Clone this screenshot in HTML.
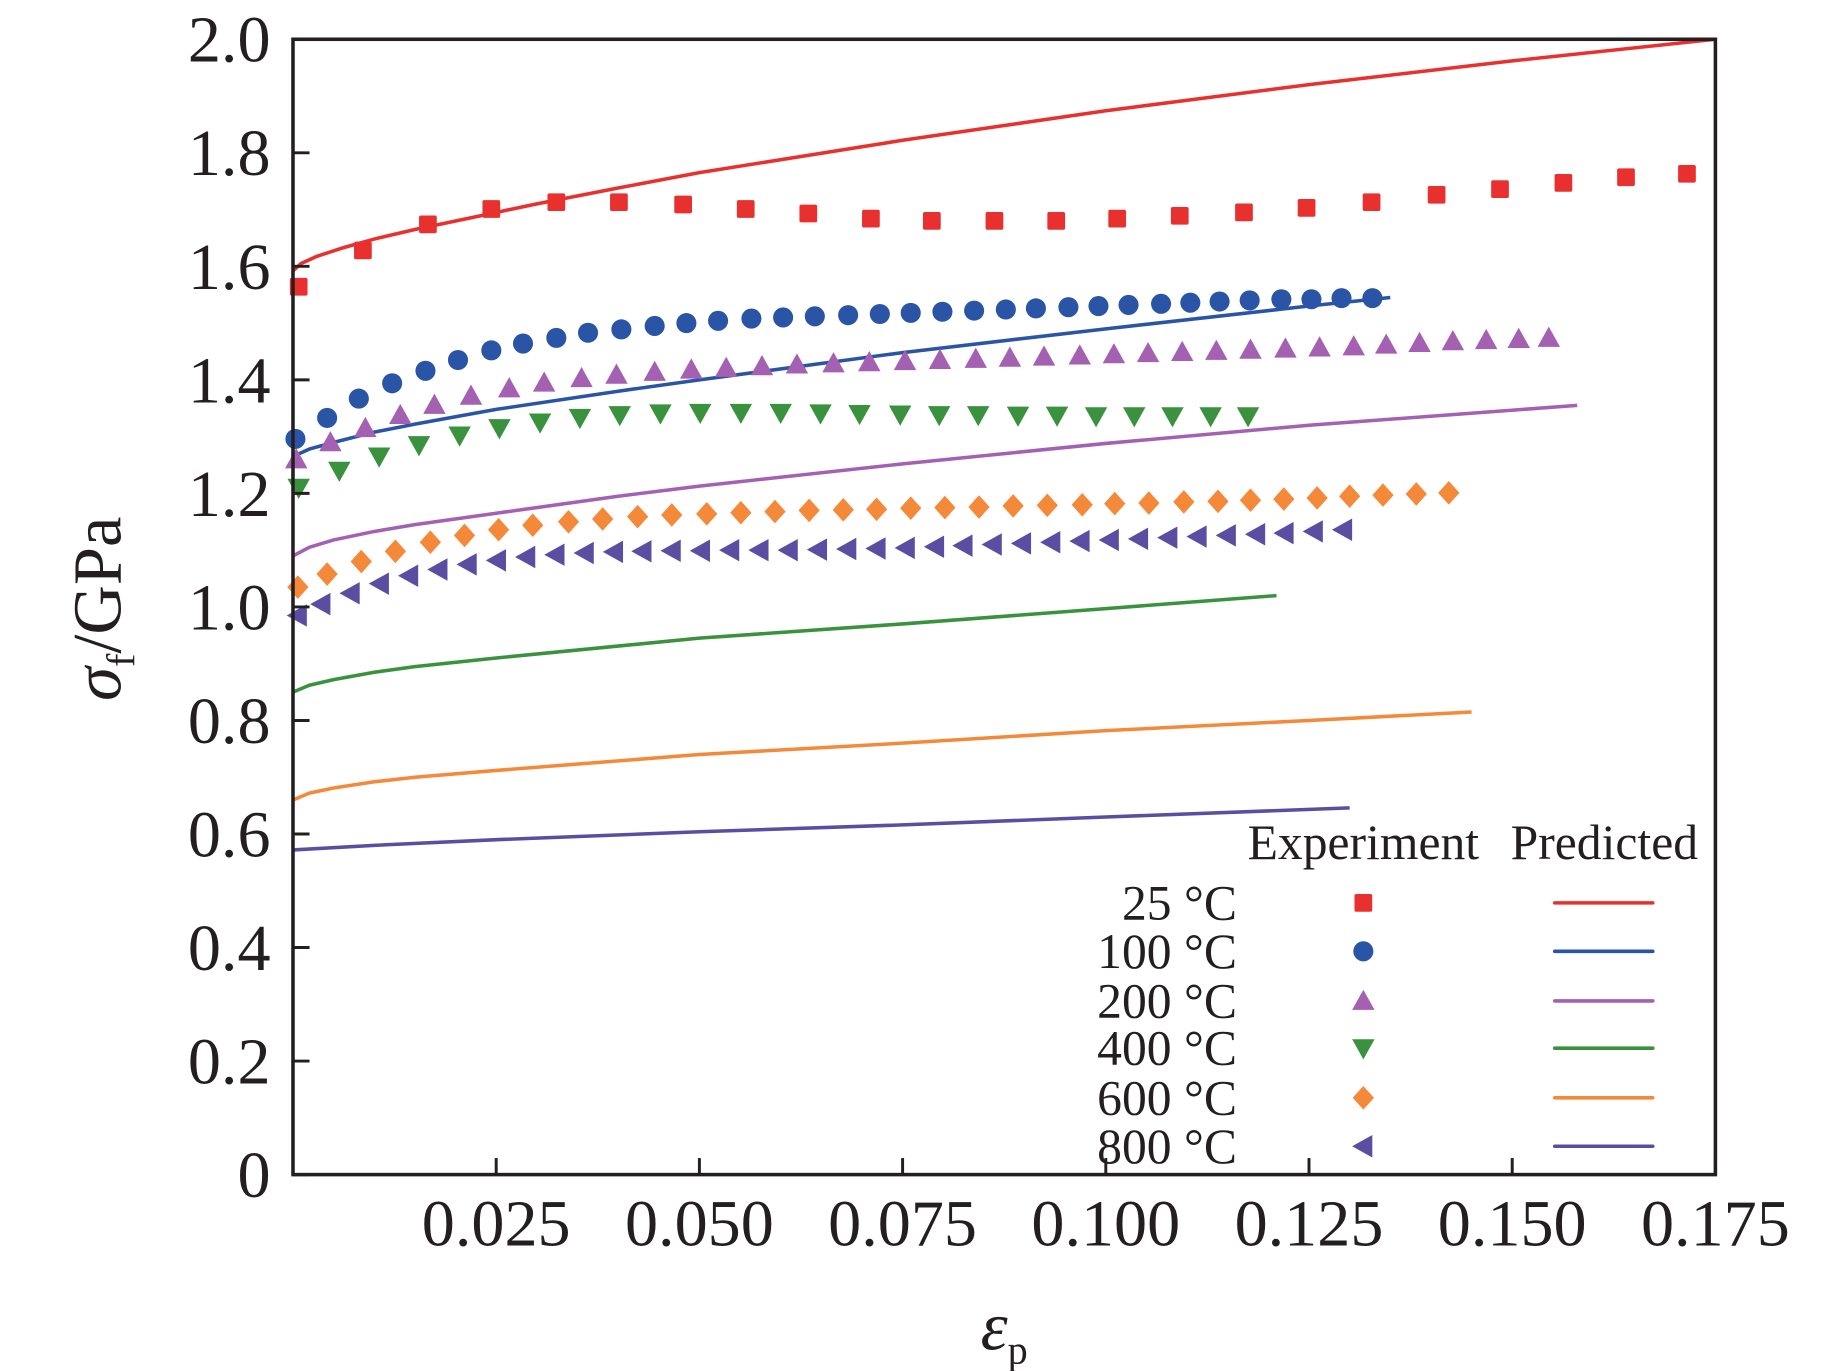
<!DOCTYPE html>
<html><head><meta charset="utf-8"><style>html,body{margin:0;padding:0;background:#fff}svg{display:block}</style></head>
<body>
<svg id="chart" width="1843" height="1371" viewBox="0 0 1560 1160" xmlns="http://www.w3.org/2000/svg" font-family="'Liberation Serif', serif" fill="#231f20"></svg>
<script>
const xTicks = [0.025, 0.05, 0.075, 0.1, 0.125, 0.15, 0.175];
const xTickLabels = ["0.025","0.050","0.075","0.100","0.125","0.150","0.175"];
const yTicks = [0,0.2,0.4,0.6,0.8,1.0,1.2,1.4,1.6,1.8,2.0];
const yTickLabels = ["0","0.2","0.4","0.6","0.8","1.0","1.2","1.4","1.6","1.8","2.0"];
const seriesNames = ["25 °C","100 °C","200 °C","400 °C","600 °C","800 °C"];

const exp25X = [.0007,.0086,.0166,.0244,.0324,.0401,.0480,.0557,.0634,.0711,.0786,.0863,.0939,.1014,.1091,.1170,.1247,.1327,.1407,.1485,.1563,.1640,.1715];
const exp25Y = [1.564,1.628,1.674,1.701,1.713,1.713,1.709,1.701,1.693,1.684,1.680,1.680,1.680,1.684,1.689,1.695,1.703,1.713,1.726,1.736,1.747,1.757,1.763];
const exp100X = [.0003,.0042,.0081,.0122,.0163,.0203,.0244,.0283,.0324,.0363,.0404,.0445,.0484,.0523,.0564,.0603,.0642,.0683,.0722,.0760,.0799,.0838,.0877,.0914,.0954,.0991,.1028,.1068,.1104,.1140,.1177,.1216,.1253,.1290,.1328];
const exp100Y = [1.296,1.333,1.367,1.394,1.416,1.435,1.452,1.464,1.474,1.483,1.489,1.495,1.500,1.504,1.508,1.510,1.512,1.514,1.516,1.518,1.520,1.522,1.524,1.526,1.528,1.530,1.532,1.534,1.536,1.538,1.540,1.542,1.542,1.544,1.544];
const exp200X = [.0004,.0046,.0089,.0132,.0174,.0219,.0266,.0309,.0355,.0398,.0445,.0490,.0533,.0577,.0620,.0665,.0709,.0753,.0796,.0840,.0882,.0924,.0968,.1010,.1052,.1094,.1136,.1178,.1221,.1263,.1305,.1345,.1386,.1427,.1468,.1508,.1545];
const exp200Y = [1.26,1.29,1.315,1.338,1.356,1.372,1.385,1.395,1.403,1.409,1.414,1.418,1.421,1.424,1.427,1.429,1.431,1.433,1.435,1.437,1.439,1.441,1.443,1.445,1.447,1.449,1.451,1.453,1.455,1.457,1.459,1.462,1.465,1.468,1.470,1.472,1.474];
const exp400X = [.0007,.0057,.0106,.0155,.0205,.0254,.0304,.0353,.0402,.0452,.0501,.0551,.0600,.0649,.0697,.0747,.0795,.0843,.0892,.0940,.0988,.1035,.1082,.1129,.1175];
const exp400Y = [1.21,1.24,1.265,1.285,1.302,1.315,1.325,1.333,1.338,1.341,1.342,1.342,1.342,1.341,1.340,1.339,1.338,1.338,1.337,1.337,1.336,1.336,1.336,1.336,1.336];
const exp600X = [.0006,.0042,.0084,.0126,.0169,.0211,.0253,.0295,.0339,.0381,.0424,.0466,.0509,.0551,.0593,.0635,.0677,.0718,.0760,.0802,.0844,.0886,.0928,.0971,.1011,.1053,.1096,.1138,.1178,.1219,.1260,.1300,.1341,.1382,.1422];
const exp600Y = [1.035,1.058,1.080,1.098,1.114,1.126,1.136,1.144,1.150,1.155,1.159,1.162,1.164,1.166,1.168,1.170,1.171,1.172,1.174,1.175,1.176,1.178,1.179,1.180,1.182,1.183,1.185,1.186,1.188,1.190,1.192,1.195,1.197,1.199,1.201];
const exp800X = [.0006,.0035,.0071,.0107,.0143,.0179,.0215,.0251,.0287,.0323,.0359,.0395,.0430,.0466,.0502,.0538,.0574,.0610,.0646,.0682,.0718,.0754,.0790,.0825,.0861,.0897,.0933,.0969,.1005,.1041,.1077,.1113,.1149,.1185,.1220,.1256,.1292];
const exp800Y = [0.985,1.005,1.024,1.041,1.055,1.066,1.075,1.082,1.088,1.092,1.095,1.097,1.098,1.099,1.099,1.100,1.100,1.100,1.101,1.102,1.103,1.104,1.106,1.108,1.110,1.112,1.114,1.116,1.118,1.120,1.122,1.124,1.126,1.128,1.130,1.133,1.136];

const pred25X = [0,.001,.003,.006,.01,.015,.02,.025,.03,.04,.05,.075,.1,.125,.15,.175];
const pred25Y = [1.592,1.605,1.618,1.632,1.648,1.665,1.680,1.695,1.710,1.738,1.765,1.822,1.874,1.920,1.962,2.0];
const pred100X = [0,.002,.005,.01,.015,.025,.04,.05,.075,.1,.125,.135];
const pred100Y = [1.265,1.278,1.29,1.308,1.322,1.348,1.38,1.40,1.448,1.49,1.53,1.545];
const pred200X = [0,.002,.005,.01,.015,.025,.04,.05,.075,.1,.125,.158];
const pred200Y = [1.09,1.105,1.118,1.133,1.145,1.165,1.195,1.213,1.252,1.288,1.32,1.355];
const pred400X = [0,.002,.005,.01,.015,.025,.05,.075,.1,.121];
const pred400Y = [0.85,0.862,0.872,0.885,0.895,0.91,0.945,0.97,0.997,1.02];
const pred600X = [0,.002,.005,.01,.015,.025,.05,.075,.1,.125,.145];
const pred600Y = [0.66,0.672,0.681,0.692,0.70,0.712,0.74,0.76,0.782,0.80,0.815];
const pred800X = [0,.01,.025,.05,.075,.1,.13];
const pred800Y = [0.572,0.58,0.59,0.604,0.616,0.63,0.646];

const colors = ["#e8312f","#2a55a6","#a461b2","#3a923f","#f5893a","#5b4ea2"];
const shapes = ["square","circle","up","down","diamond","left"];
const expX=[exp25X,exp100X,exp200X,exp400X,exp600X,exp800X], expY=[exp25Y,exp100Y,exp200Y,exp400Y,exp600Y,exp800Y];
const predX=[pred25X,pred100X,pred200X,pred400X,pred600X,pred800X], predY=[pred25Y,pred100Y,pred200Y,pred400Y,pred600Y,pred800Y];

const L=248,R=1452,T=33,B=994;
function sx(v){return L+v/0.175*(R-L);}
function sy(v){return B-v/2.0*(B-T);}
const NS="http://www.w3.org/2000/svg";
const svg=document.getElementById('chart');
function mk(tag,attrs,parent){const e=document.createElementNS(NS,tag);for(const k in attrs)e.setAttribute(k,attrs[k]);(parent||svg).appendChild(e);return e;}

function marker(shape,cx,cy,col,parent){
  const s=9.5;
  if(shape==="square") return mk('rect',{x:cx-7.5,y:cy-7.5,width:15,height:15,rx:1.5,fill:col},parent);
  if(shape==="circle") return mk('circle',{cx:cx,cy:cy,r:8.5,fill:col},parent);
  let p;
  if(shape==="up") p=[[cx,cy-s],[cx+s,cy+s*0.8],[cx-s,cy+s*0.8]];
  if(shape==="down") p=[[cx,cy+s],[cx+s,cy-s*0.8],[cx-s,cy-s*0.8]];
  if(shape==="diamond") p=[[cx,cy-10],[cx+9,cy],[cx,cy+10],[cx-9,cy]];
  if(shape==="left") p=[[cx-s,cy],[cx+s*0.8,cy-s],[cx+s*0.8,cy+s]];
  return mk('polygon',{points:p.map(q=>q.join(',')).join(' '),fill:col},parent);
}

for(let i=0;i<6;i++){
  const pts=predX[i].map((x,j)=>sx(x).toFixed(1)+','+sy(predY[i][j]).toFixed(1)).join(' ');
  const pl=mk('polyline',{points:pts,fill:'none',stroke:colors[i],'stroke-width':3,'stroke-linejoin':'round'});
  
  
}
for(let i=0;i<6;i++){
  const g=mk('g',{});
  
  
  for(let j=0;j<expX[i].length;j++){
    const m=marker(shapes[i],sx(expX[i][j]),sy(expY[i][j]),colors[i],g);
    
    
  }
}
const frame=mk('rect',{x:L,y:T,width:R-L,height:B-T,fill:'none',stroke:'#231f20','stroke-width':3});


for(let i=0;i<xTicks.length;i++){
  const x=sx(xTicks[i]);
  const t=mk('line',{x1:x,x2:x,y1:B,y2:B-14,stroke:'#231f20','stroke-width':2.5});
  
  
  const lb=mk('text',{x:x,y:1054,'font-size':56,'text-anchor':'middle'});
  lb.textContent=xTickLabels[i];
  
  
}
for(let i=0;i<yTicks.length;i++){
  const y=sy(yTicks[i]);
  const t=mk('line',{x1:L,x2:L+14,y1:y,y2:y,stroke:'#231f20','stroke-width':2.5});
  
  
  const lb=mk('text',{x:229,y:y+19,'font-size':56,'text-anchor':'end'});
  lb.textContent=yTickLabels[i];
  
  
}
const lg=mk('g',{});


const h1=mk('text',{x:1154,y:727,'font-size':42,'text-anchor':'middle'},lg);h1.textContent='Experiment';


const h2=mk('text',{x:1358,y:727,'font-size':42,'text-anchor':'middle'},lg);h2.textContent='Predicted';


const rowY=[764,805,847,887,929,970];
for(let i=0;i<6;i++){
  const tx=mk('text',{x:1047,y:rowY[i]+14,'font-size':42,'text-anchor':'end'},lg);tx.textContent=seriesNames[i];
  
  
  const m=marker(shapes[i],1154,rowY[i],colors[i],lg);
  
  
  const ln=mk('line',{x1:1316,x2:1399,y1:rowY[i],y2:rowY[i],stroke:colors[i],'stroke-width':3,'stroke-linecap':'round'},lg);
  
  
}
</script>
<svg style="position:absolute;left:0;top:0" width="1843" height="1371" viewBox="0 0 1560 1160" font-family="'Liberation Serif', serif" fill="#231f20">
  <text transform="translate(102,515) rotate(-90)" text-anchor="middle" font-size="58"><tspan font-style="italic">σ</tspan><tspan font-size="34" dy="12">f</tspan><tspan dy="-12">/GPa</tspan></text>
  <text x="850" y="1142" text-anchor="middle" font-size="58"><tspan font-style="italic">ε</tspan><tspan font-size="34" dy="12">p</tspan></text>
</svg>
</body></html>
